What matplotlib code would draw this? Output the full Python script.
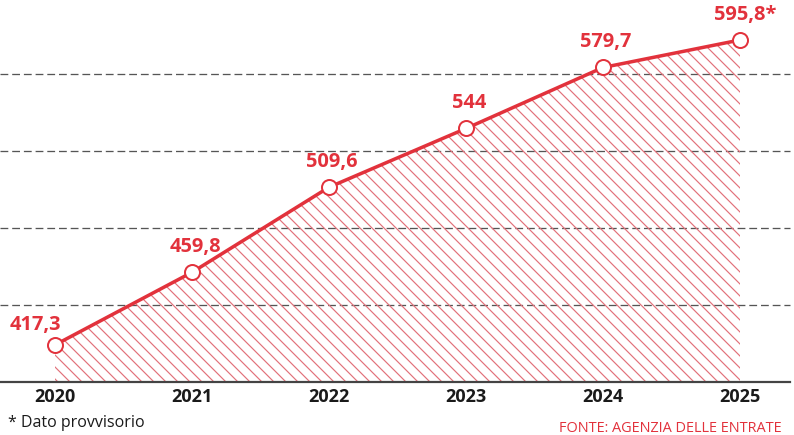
import numpy as np
import matplotlib.pyplot as plt

years = [2020, 2021, 2022, 2023, 2024, 2025]
values = [417.3, 459.8, 509.6, 544.0, 579.7, 595.8]
labels = ['417,3', '459,8', '509,6', '544', '579,7', '595,8*']
grid_levels = [440.7, 485.8, 530.9, 576.0]

RED = '#e2323c'
PINK = '#e2727b'

plt.rcParams['font.family'] = ['Open Sans', 'DejaVu Sans']
plt.rcParams['hatch.linewidth'] = 1.2
plt.rcParams['hatch.color'] = PINK

fig = plt.figure(figsize=(794 / 72, 435 / 72), dpi=72)
ax = fig.add_axes([0, 53 / 435, 1, 382 / 435])
ymin, ymax = 395.6, 619.2
ax.set_xlim(2020 - 55 / 137, 2020 + 739 / 137)
ax.set_ylim(ymin, ymax)

for g in grid_levels:
    ax.axhline(g, xmax=790 / 794, color='#555555', lw=1.3, ls=(0, (6, 3)), zorder=1)

ax.fill_between(years, values, ymin, facecolor='none', edgecolor=PINK,
                hatch='\\\\', linewidth=0, zorder=2)
ax.axhline(ymin, xmax=790 / 794, color='#444444', lw=2.2, zorder=3, clip_on=False)

ax.plot(years, values, color=RED, lw=3.5, zorder=4,
        marker='o', ms=15, mfc='white', mec=RED, mew=2)

for i, (x, v, t) in enumerate(zip(years, values, labels)):
    if i == 0:
        ax.annotate(t, (x, v), xytext=(-20, 20), textcoords='offset points',
                    ha='center', va='center', color=RED, fontsize=20, fontweight='bold')
    else:
        dx = 5 if i == 5 else 3
        ax.annotate(t, (x, v), xytext=(dx, 25), textcoords='offset points',
                    ha='center', va='center', color=RED, fontsize=20, fontweight='bold')

for x in years:
    ax.text(x, ymin - 8.7, str(x), ha='center', va='center', fontsize=18,
            fontweight='bold', color='#1a1a1a')

ax.axis('off')

fig.text(8 / 794, 1 - 423 / 435, '* Dato provvisorio', ha='left', va='center',
         fontsize=16, color='#1a1a1a')
fig.text(782 / 794, 1 - 428 / 435, 'FONTE: AGENZIA DELLE ENTRATE', ha='right',
         va='center', fontsize=14.5, color=RED)

fig.savefig('out.png', dpi=72)
